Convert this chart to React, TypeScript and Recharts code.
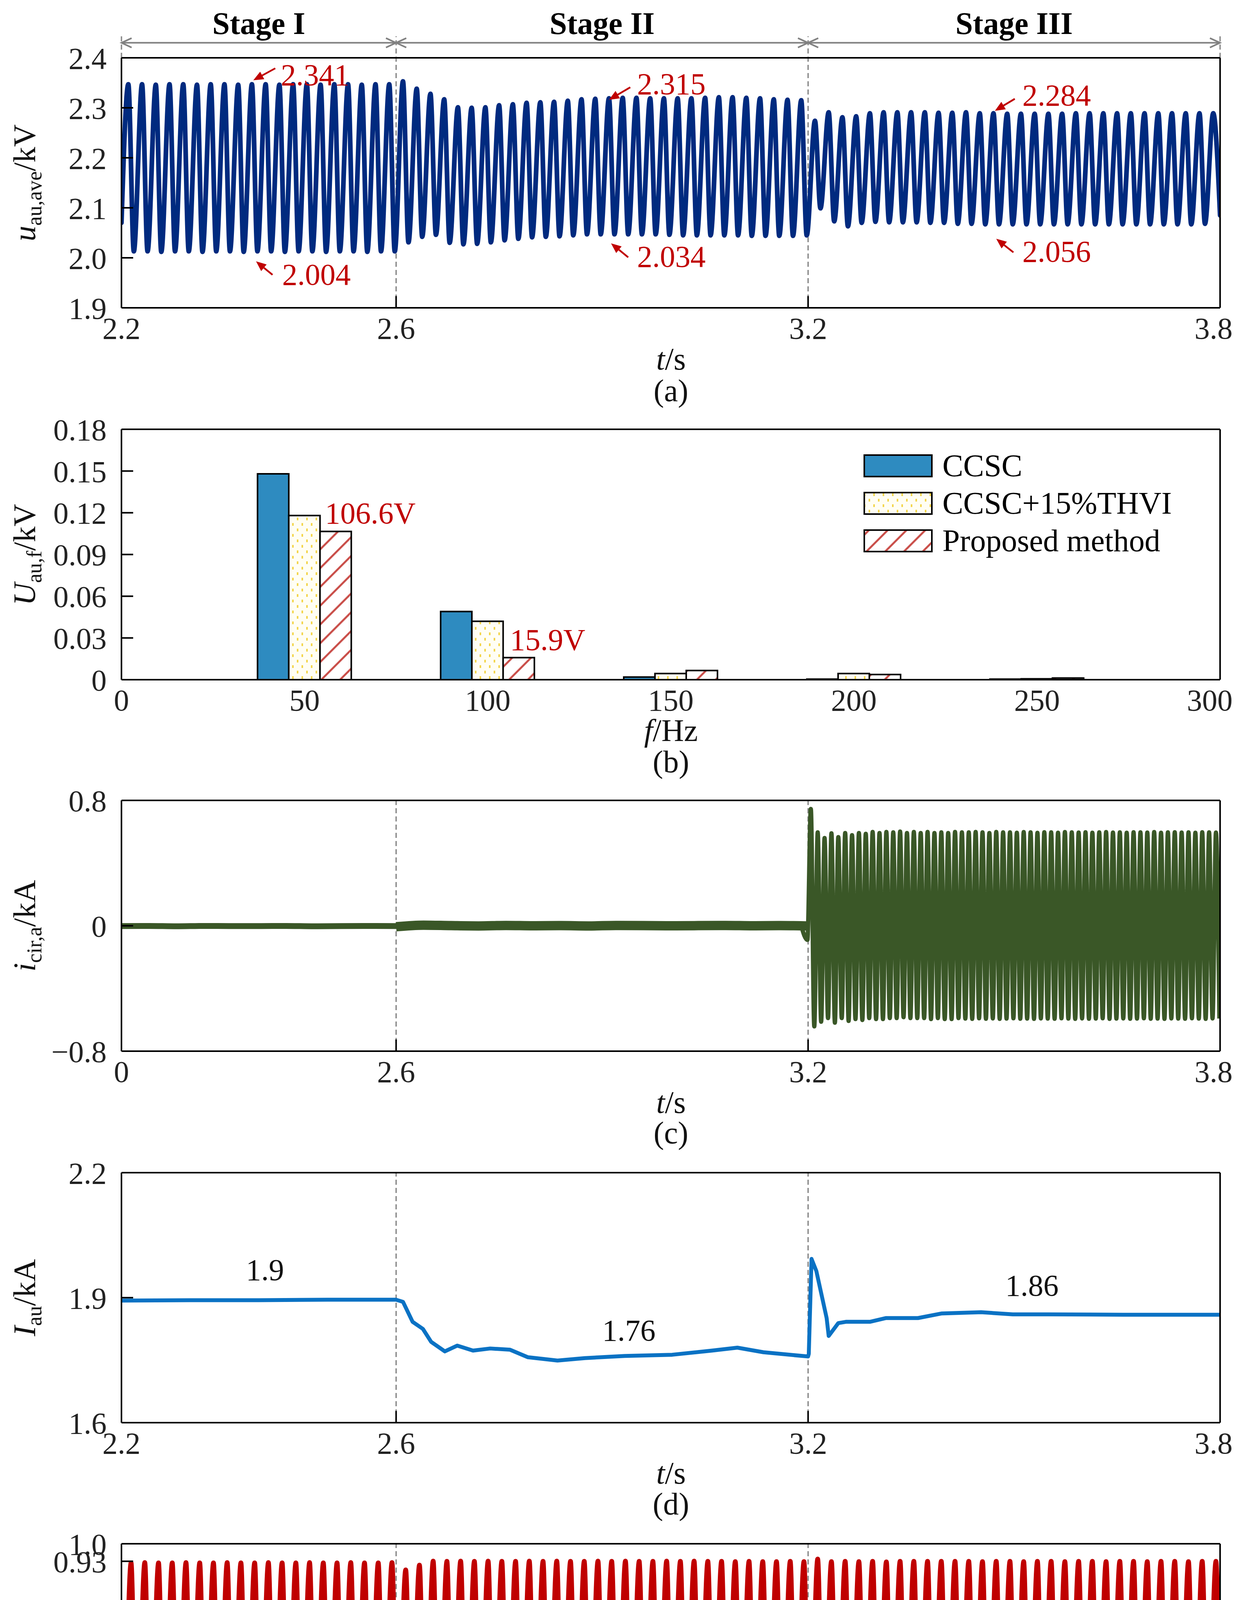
import React from 'react';
import { LineChart, Line, BarChart, Bar, XAxis, YAxis, ReferenceLine, ReferenceDot } from 'recharts';

const FONT = "'Liberation Serif', 'Times New Roman', serif";
const PAGE_W = 3175;
const PAGE_H = 4858;

// ---------------- (a) u_au,ave ----------------
const aXTicks = [2.2, 2.6, 3.2, 3.8];
const aXTickLabels = ['2.2', '2.6', '3.2', '3.8'];
const aYTicks = [1.9, 2.0, 2.1, 2.2, 2.3, 2.4];
const aYTickLabels = ['1.9', '2.0', '2.1', '2.2', '2.3', '2.4'];
const aStart = 2.07;
const aEnd = 2.085;
const aPeaks = [
  2.347, 2.347, 2.346, 2.347, 2.347, 2.346, 2.347, 2.347, 2.346, 2.347,
  2.347, 2.346, 2.347, 2.347, 2.346, 2.347, 2.347, 2.346, 2.347, 2.347,
  2.353, 2.338, 2.328, 2.317, 2.301, 2.300, 2.301, 2.305, 2.307, 2.310,
  2.311, 2.312, 2.314, 2.317, 2.318, 2.319, 2.320, 2.320, 2.319, 2.319,
  2.319, 2.319, 2.320, 2.321, 2.321, 2.320, 2.319, 2.317, 2.316, 2.315,
  2.274, 2.291, 2.281, 2.283, 2.289, 2.291, 2.291, 2.291, 2.291, 2.290,
  2.290, 2.291, 2.289, 2.289, 2.288, 2.288, 2.288, 2.288, 2.288, 2.289,
  2.289, 2.289, 2.289, 2.289, 2.289, 2.289, 2.289, 2.289, 2.289, 2.289,
];
const aTroughs = [
  2.013, 2.013, 2.012, 2.013, 2.013, 2.012, 2.013, 2.013, 2.012, 2.013,
  2.013, 2.012, 2.013, 2.013, 2.012, 2.013, 2.013, 2.012, 2.013, 2.013,
  2.031, 2.042, 2.046, 2.030, 2.027, 2.028, 2.031, 2.035, 2.038, 2.041,
  2.042, 2.043, 2.045, 2.047, 2.047, 2.047, 2.047, 2.047, 2.047, 2.046,
  2.045, 2.045, 2.045, 2.045, 2.045, 2.044, 2.044, 2.044, 2.044, 2.045,
  2.099, 2.073, 2.063, 2.070, 2.072, 2.071, 2.071, 2.071, 2.070, 2.070,
  2.068, 2.068, 2.067, 2.067, 2.067, 2.067, 2.067, 2.067, 2.067, 2.067,
  2.067, 2.067, 2.067, 2.067, 2.067, 2.067, 2.067, 2.067, 2.068,
];
const stageNames = ['Stage I', 'Stage II', 'Stage III'];
const stageBounds = [2.2, 2.6, 3.2, 3.8];
const stageArrowLevel = 2.43;
const stageDashTop = 2.443;
const aNoteLabels = ['2.341', '2.004', '2.315', '2.034', '2.284', '2.056'];
const aNoteAt = [[2.432, 2.345], [2.434, 1.946], [2.951, 2.327], [2.951, 1.982], [3.512, 2.305], [3.512, 1.992]];
const aNoteTail = [[2.424, 2.379], [2.420, 1.966], [2.941, 2.341], [2.938, 2.001], [3.501, 2.318], [3.499, 2.011]];
const aNoteHead = [[2.392, 2.355], [2.396, 1.993], [2.910, 2.316], [2.913, 2.029], [3.472, 2.294], [3.474, 2.038]];

// ---------------- (b) harmonic spectrum ----------------
const bFreq = [50, 100, 150, 200, 250];
const bCCSC = [0.148, 0.049, 0.0019, 0.0004, 0.0004];
const bTHVI = [0.118, 0.042, 0.0044, 0.0044, 0.0006];
const bProp = [0.1066, 0.0159, 0.0066, 0.0037, 0.0012];
const bSeriesNames = ['CCSC', 'CCSC+15%THVI', 'Proposed method'];
const bXTicks = [0, 50, 100, 150, 200, 250, 300];
const bXTickLabels = ['0', '50', '100', '150', '200', '250', '300'];
const bYTicks = [0, 0.03, 0.06, 0.09, 0.12, 0.15, 0.18];
const bYTickLabels = ['0', '0.03', '0.06', '0.09', '0.12', '0.15', '0.18'];
const bNoteLabels = ['106.6V', '15.9V'];
const bNoteAt = [[55.6, 0.1123], [106.1, 0.0213]];

// ---------------- (c) i_cir,a ----------------
const cXTicks = [2.2, 2.6, 3.2, 3.8];
const cXTickLabels = ['0', '2.6', '3.2', '3.8'];
const cYTicks = [-0.8, 0, 0.8];
const cYTickLabels = ['\u22120.8', '0', '0.8'];
// stage I and stage II: nearly flat noisy bands (one value every 0.04 s)
const cStage1 = [-0.002, -0.001, -0.003, -0.001, -0.002, -0.002, -0.001, -0.003, -0.002, -0.001, -0.002];
const cStage2 = [-0.006, 0.004, 0.001, -0.001, 0.002, 0.000, 0.001, -0.001, 0.002, 0.001, 0.000, 0.001, 0.002, 0.000, 0.001, -0.001];
// stage III: 100 Hz circulating current
const cOscStart = -0.001;
const cPeaks = [
  0.745, 0.596, 0.560, 0.590, 0.566, 0.592, 0.578, 0.592, 0.587, 0.599,
  0.592, 0.599, 0.596, 0.601, 0.592, 0.599, 0.592, 0.599, 0.592, 0.596,
  0.592, 0.599, 0.596, 0.596, 0.599, 0.596, 0.592, 0.599, 0.596, 0.596,
  0.594, 0.598, 0.596, 0.593, 0.597, 0.596, 0.594, 0.598, 0.596, 0.595,
  0.597, 0.594, 0.596, 0.598, 0.595, 0.596, 0.594, 0.597, 0.596, 0.595,
  0.598, 0.594, 0.596, 0.597, 0.595, 0.596, 0.594, 0.597, 0.596, 0.595,
];
const cTroughs = [
  -0.090,
  -0.642, -0.612, -0.589, -0.618, -0.589, -0.607, -0.595, -0.601, -0.589, -0.595,
  -0.595, -0.589, -0.589, -0.583, -0.589, -0.589, -0.589, -0.595, -0.589, -0.595,
  -0.595, -0.589, -0.592, -0.594, -0.590, -0.593, -0.591, -0.594, -0.592, -0.590,
  -0.593, -0.592, -0.594, -0.591, -0.592, -0.593, -0.590, -0.592, -0.594, -0.591,
  -0.593, -0.592, -0.590, -0.594, -0.592, -0.591, -0.593, -0.592, -0.590, -0.593,
  -0.592, -0.594, -0.591, -0.592, -0.593, -0.590, -0.592, -0.594, -0.591, -0.592,
];

// ---------------- (d) I_au ----------------
const dXTicks = [2.2, 2.6, 3.2, 3.8];
const dXTickLabels = ['2.2', '2.6', '3.2', '3.8'];
const dYTicks = [1.6, 1.9, 2.2];
const dYTickLabels = ['1.6', '1.9', '2.2'];
const dT = [
  2.2, 2.3, 2.4, 2.5, 2.6, 2.61, 2.624, 2.639, 2.651, 2.671, 2.689, 2.712, 2.737, 2.766,
  2.792, 2.835, 2.875, 2.933, 3.002, 3.06, 3.097, 3.135, 3.192, 3.2, 3.201, 3.205, 3.212,
  3.227, 3.23, 3.244, 3.255, 3.29, 3.313, 3.36, 3.394, 3.452, 3.498, 3.55, 3.659, 3.8,
];
const dV = [
  1.893, 1.894, 1.894, 1.895, 1.895, 1.890, 1.842, 1.825, 1.794, 1.771, 1.785, 1.773, 1.778, 1.775,
  1.757, 1.749, 1.755, 1.760, 1.763, 1.773, 1.780, 1.769, 1.760, 1.759, 1.765, 1.993, 1.964,
  1.851, 1.808, 1.839, 1.842, 1.842, 1.851, 1.851, 1.862, 1.865, 1.860, 1.860, 1.859, 1.859,
];
const dNoteLabels = ['1.9', '1.76', '1.86'];
const dNoteAt = [[2.409, 1.942], [2.939, 1.797], [3.526, 1.905]];

// ---------------- (e) S_au ----------------
const eXTicks = [2.2, 2.6, 3.2, 3.8];
const eXTickLabels = ['2.2', '2.6', '3.2', '3.8'];
const eYTicks = [0, 0.07, 0.5, 0.93, 1.0];
const eYTickLabels = ['0', '0.07', '0.5', '0.93', '1.0'];
const eStart = 0.21;
const eEnd = 0.08;
const ePeaks = [
  0.924, 0.925, 0.924, 0.924, 0.925, 0.924, 0.924, 0.925, 0.924, 0.924,
  0.925, 0.924, 0.924, 0.925, 0.924, 0.924, 0.925, 0.924, 0.924, 0.925,
  0.896, 0.915, 0.931, 0.930, 0.931, 0.930, 0.931, 0.930, 0.930, 0.931,
  0.930, 0.931, 0.930, 0.930, 0.931, 0.930, 0.931, 0.930, 0.930, 0.931,
  0.930, 0.931, 0.930, 0.930, 0.929, 0.930, 0.929, 0.929, 0.930, 0.929,
  0.939, 0.929, 0.930, 0.929, 0.930, 0.928, 0.930, 0.930, 0.930, 0.930,
  0.930, 0.930, 0.929, 0.930, 0.930, 0.929, 0.930, 0.930, 0.929, 0.930,
  0.930, 0.929, 0.930, 0.930, 0.929, 0.930, 0.930, 0.929, 0.930, 0.930,
];
const eTroughs = [
  0.062, 0.061, 0.062, 0.062, 0.061, 0.062, 0.062, 0.061, 0.062, 0.062,
  0.061, 0.062, 0.062, 0.061, 0.062, 0.062, 0.061, 0.062, 0.062, 0.061,
  0.099, 0.094, 0.066, 0.064, 0.063, 0.064, 0.063, 0.064, 0.063, 0.064,
  0.063, 0.064, 0.063, 0.064, 0.063, 0.064, 0.063, 0.064, 0.063, 0.064,
  0.063, 0.064, 0.065, 0.066, 0.066, 0.066, 0.065, 0.066, 0.066, 0.066,
  0.004, 0.037, 0.053, 0.056, 0.056, 0.056, 0.055, 0.056, 0.055, 0.055,
  0.056, 0.055, 0.055, 0.054, 0.055, 0.055, 0.054, 0.055, 0.055, 0.054,
  0.055, 0.055, 0.054, 0.055, 0.055, 0.054, 0.055, 0.055, 0.054, 0.055,
];

// ---------------- data builders ----------------
type Pt = { t: number; v: number };
const r4 = (x: number) => Math.round(x * 10000) / 10000;
const seq = (t0: number, dt: number, vals: number[]): Pt[] => vals.map((v, i) => ({ t: r4(t0 + dt * i), v }));
const merge = (...parts: Pt[][]): Pt[] => parts.flat().sort((p, q) => p.t - q.t);

const aData = merge([{ t: 2.2, v: aStart }], seq(2.21, 0.02, aPeaks), seq(2.218, 0.02, aTroughs), [{ t: 3.8, v: aEnd }]);
const bData = bFreq.map((f, i) => ({ f, ccsc: bCCSC[i], thvi: bTHVI[i], prop: bProp[i] }));
const cData1 = seq(2.2, 0.04, cStage1);
const cData2 = seq(2.6, 0.04, cStage2);
const cData3 = merge([{ t: 3.19, v: cOscStart }], seq(3.204, 0.01, cPeaks), seq(3.199, 0.01, cTroughs));
const dData = dT.map((t, i) => ({ t, v: dV[i] }));
const eData = merge([{ t: 2.2, v: eStart }], seq(2.202, 0.02, eTroughs), seq(2.214, 0.02, ePeaks), [{ t: 3.8, v: eEnd }]);

// ---------------- layout ----------------
const PLOT_LEFT = 311;
const PLOT_RIGHT = 3124;
function marginsFor(chartTop: number, chartH: number, plotTop: number, plotBottom: number) {
  return { top: plotTop - chartTop - 1, bottom: chartTop + chartH - plotBottom - 1, left: PLOT_LEFT - 1, right: PAGE_W - PLOT_RIGHT - 1 };
}

// ---------------- styles ----------------
const axisLineStyle = { stroke: '#000', strokeWidth: 4 };
const tickLineStyle = { stroke: '#000', strokeWidth: 4 };
const tickFont = { fontSize: 78, fill: '#222', fontFamily: FONT };
const DASH = { stroke: '#8a8a8a', strokeWidth: 3.5, strokeDasharray: '13 8' };

const labelOf = (ticks: number[], labels: string[]) => (v: number) => {
  const i = ticks.findIndex((t) => Math.abs(t - v) < 1e-9);
  return i >= 0 ? labels[i] : String(v);
};

const xTickRenderer = (ticks: number[], labels: string[]) => (props: any) => {
  const { x, y, payload } = props;
  const i = ticks.findIndex((t) => Math.abs(t - payload.value) < 1e-9);
  const last = i === ticks.length - 1;
  return (
    <text x={last ? x + 32 : x} y={y} dy={55} textAnchor={last ? 'end' : 'middle'} fontSize={78} fill="#222" fontFamily={FONT}>
      {i >= 0 ? labels[i] : String(payload.value)}
    </text>
  );
};

function frameAxes(xKey: string, xDomain: number[], xTicks: number[], xLabels: string[], yDomain: number[], yTicks: number[], yLabels: string[], bottomTicks = true) {
  return [
    <XAxis key="xb" xAxisId="b" dataKey={xKey} type="number" domain={xDomain} ticks={xTicks} interval={0} height={1}
      tickSize={-30} tickMargin={54} axisLine={axisLineStyle} tickLine={bottomTicks ? tickLineStyle : false} tick={xTickRenderer(xTicks, xLabels)}
      allowDataOverflow />,
    <XAxis key="xt" xAxisId="t" orientation="top" type="number" domain={xDomain} ticks={xTicks} interval={0} height={1}
      tickSize={-30} axisLine={axisLineStyle} tickLine={tickLineStyle} tick={false} allowDataOverflow />,
    <YAxis key="yl" yAxisId="l" type="number" domain={yDomain} ticks={yTicks} interval={0} width={1}
      tickSize={-30} tickMargin={68} axisLine={axisLineStyle} tickLine={tickLineStyle} tick={tickFont}
      tickFormatter={labelOf(yTicks, yLabels)} />,
    <YAxis key="yr" yAxisId="r" orientation="right" type="number" domain={yDomain} ticks={yTicks} interval={0} width={1}
      tickSize={-30} axisLine={axisLineStyle} tickLine={tickLineStyle} tick={false} allowDataOverflow />,
  ];
}

const stageShape = (label: string) => (p: any) => {
  const { x1, y1, x2, y2 } = p;
  const c = '#808080';
  return (
    <g>
      <line x1={x1} y1={y1} x2={x2} y2={y2} stroke={c} strokeWidth={4} />
      <polyline points={`${x1 + 26},${y1 - 12} ${x1},${y1} ${x1 + 26},${y1 + 12}`} fill="none" stroke={c} strokeWidth={4} />
      <polyline points={`${x2 - 26},${y2 - 12} ${x2},${y2} ${x2 - 26},${y2 + 12}`} fill="none" stroke={c} strokeWidth={4} />
      <text x={(x1 + x2) / 2} y={y1 - 23} textAnchor="middle" fontSize={80} fontWeight="bold" fontFamily={FONT} fill="#000">{label}</text>
    </g>
  );
};

const redArrowShape = (p: any) => {
  const { x1, y1, x2, y2 } = p;
  const dx = x2 - x1;
  const dy = y2 - y1;
  const L = Math.hypot(dx, dy) || 1;
  const ux = dx / L;
  const uy = dy / L;
  const hl = 26;
  const hw = 11;
  const bx = x2 - ux * hl;
  const by = y2 - uy * hl;
  return (
    <g>
      <line x1={x1} y1={y1} x2={bx} y2={by} stroke="#c00000" strokeWidth={4.5} />
      <polygon points={`${x2},${y2} ${bx - uy * hw},${by + ux * hw} ${bx + uy * hw},${by - ux * hw}`} fill="#c00000" />
    </g>
  );
};

const textShape = (label: string, color: string, anchor: 'start' | 'middle') => (p: any) => (
  <text x={p.cx} y={p.cy} textAnchor={anchor} fontSize={78} fontFamily={FONT} fill={color}>{label}</text>
);

function YTitle({ x, y, main, sub, unit }: { x: number; y: number; main: string; sub: string; unit?: string }) {
  return (
    <text transform={`rotate(-90 ${x} ${y})`} x={x} y={y} textAnchor="middle" fontSize={80} fontFamily={FONT} fill="#111">
      <tspan fontStyle="italic">{main}</tspan>
      <tspan fontSize={54} dy={16}>{sub}</tspan>
      {unit ? <tspan dy={-16}>{unit}</tspan> : null}
    </text>
  );
}

function XTitle({ y, main, unit }: { y: number; main: string; unit: string }) {
  return (
    <text x={1718} y={y} textAnchor="middle" fontSize={80} fontFamily={FONT} fill="#111">
      <tspan fontStyle="italic">{main}</tspan>
      <tspan>{unit}</tspan>
    </text>
  );
}

function PanelLabel({ y, label }: { y: number; label: string }) {
  return (
    <text x={1718} y={y} textAnchor="middle" fontSize={80} fontFamily={FONT} fill="#111">{label}</text>
  );
}

const bFills = ['#2e8bc0', 'url(#dotsY)', 'url(#hatchR)'];

const CH = [
  { top: 0, h: 900, plotTop: 148, plotBottom: 788 },
  { top: 1000, h: 850, plotTop: 1099, plotBottom: 1740 },
  { top: 1950, h: 850, plotTop: 2049, plotBottom: 2691 },
  { top: 2900, h: 850, plotTop: 3002, plotBottom: 3642 },
  { top: 3850, h: 850, plotTop: 3952, plotBottom: 4593 },
];

export default function App() {
  const W = PAGE_W;
  const m = CH.map((c) => marginsFor(c.top, c.h, c.plotTop, c.plotBottom));
  return (
    <div style={{ position: 'relative', width: PAGE_W, height: PAGE_H, background: '#fff', fontFamily: FONT, overflow: 'hidden' }}>
      <style>{'html,body{margin:0;padding:0;background:#fff} .rc-host svg{overflow:visible}'}</style>
      {/* (a) */}
      <div className="rc-host" style={{ position: 'absolute', left: 0, top: CH[0].top }}>
        <LineChart width={W} height={CH[0].h} data={aData} margin={m[0]}>
          {frameAxes('t', [2.2, 3.8], aXTicks, aXTickLabels, [1.9, 2.4], aYTicks, aYTickLabels)}
          {[2.6, 3.2].map((x) => (
            <ReferenceLine key={`sd${x}`} xAxisId="b" yAxisId="l" segment={[{ x, y: 1.9 }, { x, y: stageDashTop }]} ifOverflow="visible" {...DASH} />
          ))}
          {[2.2, 3.8].map((x) => (
            <ReferenceLine key={`se${x}`} xAxisId="b" yAxisId="l" segment={[{ x, y: 2.4 }, { x, y: stageDashTop }]} ifOverflow="visible" {...DASH} />
          ))}
          {stageNames.map((s, i) => (
            <ReferenceLine key={s} xAxisId="b" yAxisId="l" ifOverflow="visible"
              segment={[{ x: stageBounds[i], y: stageArrowLevel }, { x: stageBounds[i + 1], y: stageArrowLevel }]}
              shape={stageShape(s)} />
          ))}
          <Line xAxisId="b" yAxisId="l" dataKey="v" type="monotone" stroke="#002a7f" strokeWidth={12} dot={false}
            strokeLinejoin="round" strokeLinecap="round" isAnimationActive={false} />
          {aNoteLabels.map((s, i) => (
            <ReferenceLine key={`an${i}`} xAxisId="b" yAxisId="l" ifOverflow="visible"
              segment={[{ x: aNoteTail[i][0], y: aNoteTail[i][1] }, { x: aNoteHead[i][0], y: aNoteHead[i][1] }]}
              shape={redArrowShape} />
          ))}
          {aNoteLabels.map((s, i) => (
            <ReferenceDot key={`at${i}`} xAxisId="b" yAxisId="l" x={aNoteAt[i][0]} y={aNoteAt[i][1]} r={0}
              ifOverflow="visible" shape={textShape(s, '#c00000', 'start')} />
          ))}
        </LineChart>
      </div>

      {/* (b) */}
      <div className="rc-host" style={{ position: 'absolute', left: 0, top: CH[1].top }}>
        <BarChart width={W} height={CH[1].h} data={bData} barGap={0} margin={m[1]}>
          {frameAxes('f', [0, 300], bXTicks, bXTickLabels, [0, 0.18], bYTicks, bYTickLabels, false)}
          <Bar xAxisId="b" yAxisId="l" dataKey="ccsc" name={bSeriesNames[0]} fill={bFills[0]} stroke="#000" strokeWidth={4} barSize={80} isAnimationActive={false} />
          <Bar xAxisId="b" yAxisId="l" dataKey="thvi" name={bSeriesNames[1]} fill={bFills[1]} stroke="#000" strokeWidth={4} barSize={80} isAnimationActive={false} />
          <Bar xAxisId="b" yAxisId="l" dataKey="prop" name={bSeriesNames[2]} fill={bFills[2]} stroke="#000" strokeWidth={4} barSize={80} isAnimationActive={false} />
          {bNoteLabels.map((s, i) => (
            <ReferenceDot key={`bt${i}`} xAxisId="b" yAxisId="l" x={bNoteAt[i][0]} y={bNoteAt[i][1]} r={0}
              ifOverflow="visible" shape={textShape(s, '#c00000', 'start')} />
          ))}
        </BarChart>
      </div>

      {/* (c) */}
      <div className="rc-host" style={{ position: 'absolute', left: 0, top: CH[2].top }}>
        <LineChart width={W} height={CH[2].h} margin={m[2]}>
          {frameAxes('t', [2.2, 3.8], cXTicks, cXTickLabels, [-0.8, 0.8], cYTicks, cYTickLabels)}
          <ReferenceLine xAxisId="b" yAxisId="l" x={2.6} {...DASH} />
          <ReferenceLine xAxisId="b" yAxisId="l" x={3.2} {...DASH} />
          <Line xAxisId="b" yAxisId="l" data={cData1} dataKey="v" type="monotone" stroke="#3a5727" strokeWidth={15} dot={false}
            strokeLinecap="round" isAnimationActive={false} />
          <Line xAxisId="b" yAxisId="l" data={cData2} dataKey="v" type="monotone" stroke="#3a5727" strokeWidth={24} dot={false}
            isAnimationActive={false} />
          <Line xAxisId="b" yAxisId="l" data={cData3} dataKey="v" type="monotone" stroke="#3a5727" strokeWidth={11} dot={false}
            strokeLinejoin="round" isAnimationActive={false} />
        </LineChart>
      </div>

      {/* (d) */}
      <div className="rc-host" style={{ position: 'absolute', left: 0, top: CH[3].top }}>
        <LineChart width={W} height={CH[3].h} data={dData} margin={m[3]}>
          {frameAxes('t', [2.2, 3.8], dXTicks, dXTickLabels, [1.6, 2.2], dYTicks, dYTickLabels)}
          <ReferenceLine xAxisId="b" yAxisId="l" x={2.6} {...DASH} />
          <ReferenceLine xAxisId="b" yAxisId="l" x={3.2} {...DASH} />
          <Line xAxisId="b" yAxisId="l" dataKey="v" type="linear" stroke="#0a72c4" strokeWidth={10} dot={false}
            strokeLinejoin="round" isAnimationActive={false} />
          {dNoteLabels.map((s, i) => (
            <ReferenceDot key={`dt${i}`} xAxisId="b" yAxisId="l" x={dNoteAt[i][0]} y={dNoteAt[i][1]} r={0}
              ifOverflow="visible" shape={textShape(s, '#111', 'middle')} />
          ))}
        </LineChart>
      </div>

      {/* (e) */}
      <div className="rc-host" style={{ position: 'absolute', left: 0, top: CH[4].top }}>
        <LineChart width={W} height={CH[4].h} data={eData} margin={m[4]}>
          {frameAxes('t', [2.2, 3.8], eXTicks, eXTickLabels, [0, 1], eYTicks, eYTickLabels)}
          <ReferenceLine xAxisId="b" yAxisId="l" x={2.6} {...DASH} />
          <ReferenceLine xAxisId="b" yAxisId="l" x={3.2} {...DASH} />
          <Line xAxisId="b" yAxisId="l" dataKey="v" type="monotone" stroke="#c00000" strokeWidth={12} dot={false}
            strokeLinejoin="round" isAnimationActive={false} />
        </LineChart>
      </div>

      {/* titles, legend, pattern definitions */}
      <svg width={PAGE_W} height={PAGE_H} style={{ position: 'absolute', left: 0, top: 0, pointerEvents: 'none' }}>
        <defs>
          <pattern id="dotsY" patternUnits="userSpaceOnUse" width={24} height={28}>
            <rect width={24} height={28} fill="#fffef4" />
            <rect x={4} y={3} width={4} height={7} fill="#f3d54a" />
            <rect x={16} y={17} width={4} height={7} fill="#f3d54a" />
          </pattern>
          <pattern id="hatchR" patternUnits="userSpaceOnUse" width={34} height={34} patternTransform="rotate(45)">
            <rect width={34} height={34} fill="#ffffff" />
            <line x1={17} y1={0} x2={17} y2={34} stroke="#c84a45" strokeWidth={5} />
          </pattern>
        </defs>

        <YTitle x={90} y={468} main="u" sub="au,ave" unit="/kV" />
        <YTitle x={90} y={1420} main="U" sub="au,f" unit="/kV" />
        <YTitle x={90} y={2370} main="i" sub="cir,a" unit="/kA" />
        <YTitle x={90} y={3322} main="I" sub="au" unit="/kA" />
        <YTitle x={90} y={4272} main="S" sub="au" />

        <XTitle y={946} main="t" unit="/s" />
        <PanelLabel y={1027} label="(a)" />
        <XTitle y={1897} main="f" unit="/Hz" />
        <PanelLabel y={1977} label="(b)" />
        <XTitle y={2849} main="t" unit="/s" />
        <PanelLabel y={2927} label="(c)" />
        <XTitle y={3798} main="t" unit="/s" />
        <PanelLabel y={3877} label="(d)" />
        <XTitle y={4750} main="t" unit="/s" />
        <PanelLabel y={4829} label="(e)" />

        {bSeriesNames.map((name, i) => (
          <g key={name}>
            <rect x={2213} y={1165 + i * 96} width={173} height={55} fill={bFills[i]} stroke="#000" strokeWidth={4} />
            <text x={2413} y={1219 + i * 96} fontSize={80} fontFamily={FONT} fill="#000">{name}</text>
          </g>
        ))}
      </svg>
    </div>
  );
}
